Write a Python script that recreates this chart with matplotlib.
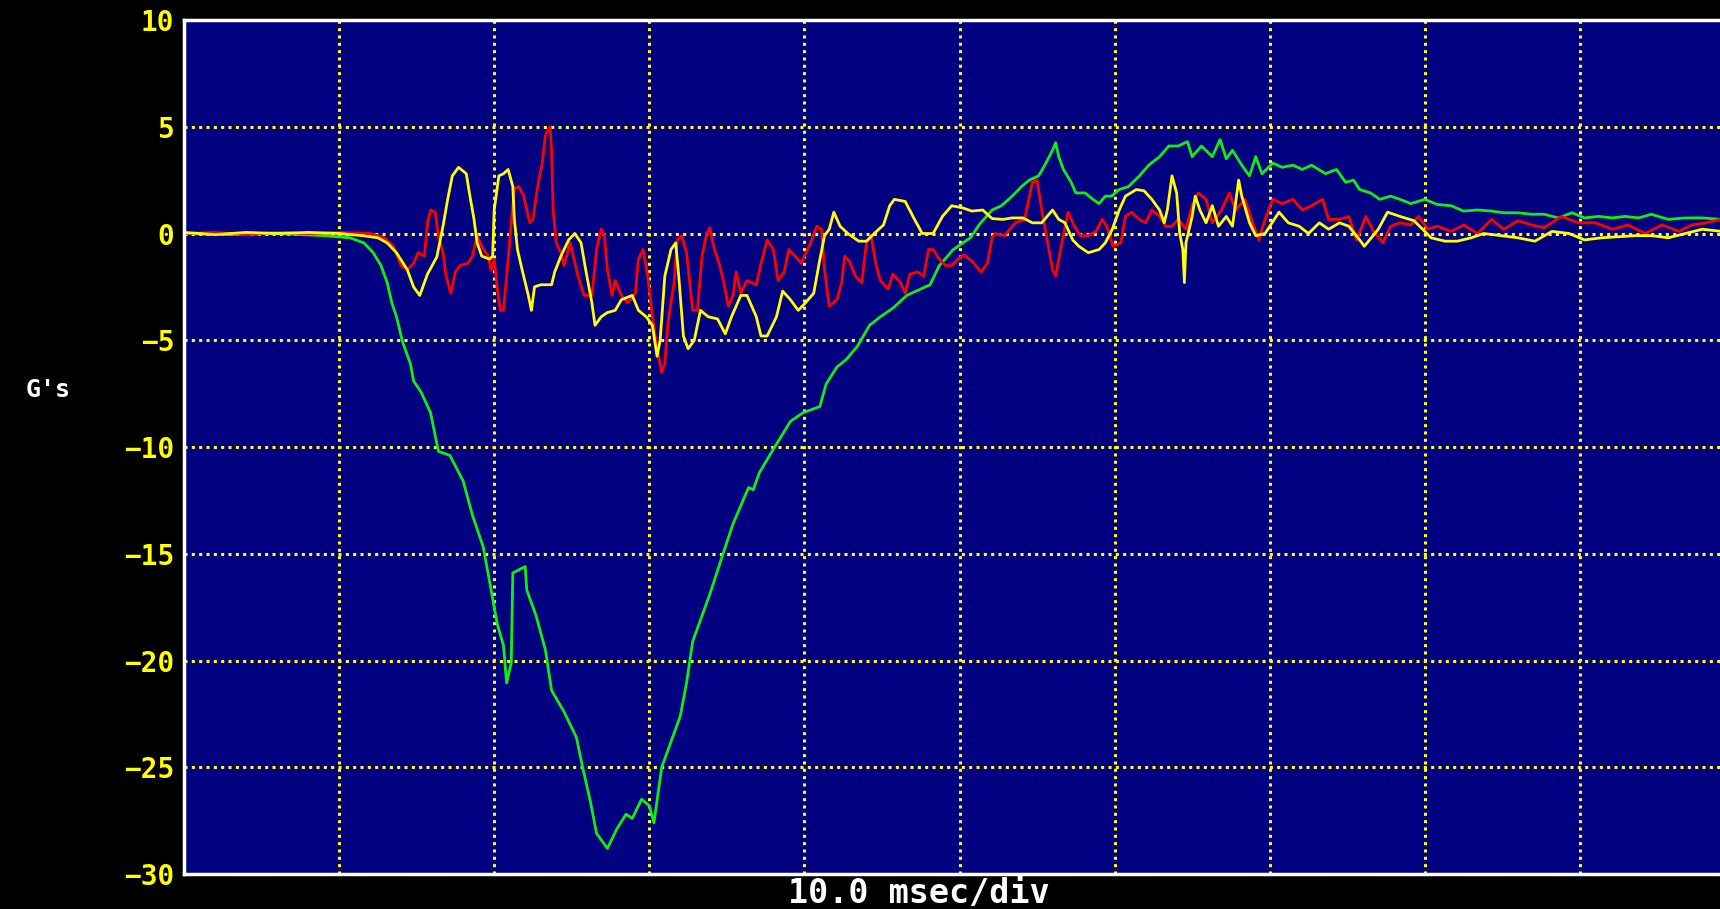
import matplotlib
matplotlib.use("Agg")
import matplotlib.pyplot as plt

# ---- data (time in ms, acceleration in G's) ----
green_t = [0, 3, 6, 9, 10.7, 11.6, 12.2, 12.7, 13.1, 13.4, 13.7, 14.1, 14.6, 14.8, 15.3, 15.9,
           16.4, 17.15, 18.0, 18.6, 19.3, 19.7, 20.2, 20.6, 20.8, 21.1, 21.2, 22.0, 22.1, 22.7,
           23.3, 23.7, 24.5, 25.3, 25.7, 26.2, 26.6, 27.3, 27.9, 28.5, 28.9, 29.5, 30.0, 30.3,
           30.8, 31.1, 32.0, 32.4, 32.8, 33.3, 33.9, 34.8, 35.4, 36.4, 36.7, 37.1, 38.0, 39.1,
           39.9, 41.0, 41.4, 42.1, 42.7, 43.4, 44.2, 44.9, 45.7, 46.6, 47.5, 48.1, 48.7, 49.6,
           50.7, 51.3, 52.1, 52.7, 53.4, 54.0, 54.5, 55.1, 55.5, 56.0, 56.2, 56.4, 56.7, 57.2,
           57.5, 58.1, 58.6, 59.0, 59.4, 59.8, 60.3, 60.9, 61.6, 62.2, 62.9, 63.5, 64.1, 64.7,
           65.0, 65.6, 66.3, 66.8, 67.2, 67.6, 68.2, 68.7, 69.1, 69.5, 70.2, 70.8, 71.5, 72.1,
           72.7, 73.6, 74.3, 74.9, 75.4, 75.8, 76.5, 77.1, 77.8, 78.4, 79.1, 80.0, 80.8, 81.7,
           82.5, 83.4, 84.3, 85.1, 86.0, 86.9, 87.7, 88.6, 89.5, 90.3, 91.2, 92.1, 92.9, 93.8,
           94.6, 95.7, 96.8, 97.9, 99.1]
green_g = [0.0, -0.05, 0.0, -0.1, -0.2, -0.44, -0.9, -1.5, -2.3, -3.25, -3.9, -5.1, -6.1, -6.9,
           -7.45, -8.4, -10.2, -10.4, -11.6, -13.2, -14.7, -16.3, -18.3, -19.3, -21.05, -20.1,
           -15.9, -15.6, -16.7, -17.9, -19.5, -21.4, -22.4, -23.6, -25.0, -26.6, -28.1, -28.8,
           -27.9, -27.2, -27.4, -26.5, -26.8, -27.6, -25.0, -24.4, -22.6, -21.05, -19.1, -18.1,
           -16.9, -14.9, -13.6, -11.9, -12.0, -11.2, -10.1, -8.8, -8.4, -8.1, -7.05, -6.25, -5.9,
           -5.3, -4.3, -3.9, -3.5, -2.9, -2.6, -2.4, -1.5, -0.75, -0.2, 0.44, 1.1, 1.3, 1.75,
           2.2, 2.5, 2.7, 3.2, 3.9, 4.25, 3.6, 3.0, 2.4, 1.9, 1.9, 1.6, 1.4, 1.75, 1.75, 2.06,
           2.2, 2.7, 3.2, 3.6, 4.1, 4.1, 4.3, 3.6, 4.1, 3.6, 4.4, 3.5, 3.9, 3.2, 2.7, 3.6, 2.8,
           3.3, 3.1, 3.2, 3.0, 3.2, 2.8, 3.0, 2.4, 2.5, 2.06, 1.9, 1.6, 1.75, 1.6, 1.4, 1.6,
           1.36, 1.3, 1.05, 1.1, 1.05, 0.97, 0.97, 0.9, 0.9, 0.73, 0.97, 0.73, 0.8, 0.73, 0.8,
           0.73, 0.9, 0.66, 0.73, 0.73, 0.66]

yellow_t = [0, 2, 4, 6, 8, 10, 11.5, 12.5, 13.1, 13.7, 14.4, 14.8, 15.2, 15.7, 16.3, 16.7, 17.0,
            17.3, 17.7, 18.2, 18.4, 18.7, 18.9, 19.2, 19.7, 19.9, 20.0, 20.3, 20.6, 20.9, 21.2,
            21.3, 21.5, 21.8, 22.2, 22.4, 22.6, 23.0, 23.7, 23.9, 24.3, 24.8, 25.2, 25.6, 25.9,
            26.3, 26.5, 26.9, 27.3, 27.8, 28.2, 28.9, 29.3, 29.8, 30.2, 30.5, 30.7, 31.0, 31.4,
            31.7, 31.9, 32.2, 32.5, 32.9, 33.3, 33.8, 34.4, 34.9, 35.3, 35.9, 36.3, 36.9, 37.2,
            37.6, 38.2, 38.6, 39.1, 39.6, 40.0, 40.6, 41.0, 41.3, 41.6, 41.9, 42.3, 42.8, 43.5,
            44.0, 44.5, 45.1, 45.5, 45.8, 46.5, 47.1, 47.6, 48.3, 48.9, 49.5, 50.2, 50.8, 51.5,
            52.1, 52.8, 53.4, 54.1, 54.7, 55.3, 56.0, 56.4, 56.8, 57.3, 57.7, 58.3, 59.0, 59.4,
            59.85, 60.3, 60.7, 61.4, 61.9, 62.4, 62.9, 63.2, 63.4, 63.7, 64.0, 64.2, 64.4, 64.5,
            64.6, 65.0, 65.2, 65.5, 65.9, 66.3, 66.7, 67.2, 67.6, 68.0, 68.2, 68.7, 69.1, 69.7,
            70.6, 71.2, 71.9, 72.5, 73.2, 73.8, 74.5, 75.1, 75.8, 76.1, 77.0, 77.6, 78.4, 79.3,
            80.0, 80.4, 81.3, 82.1, 83.0, 83.8, 84.9, 86.0, 87.1, 88.2, 89.3, 90.3, 91.4, 92.5,
            93.6, 94.6, 95.7, 96.8, 97.9, 99.1]
yellow_g = [0.05, -0.05, 0.05, 0.0, 0.05, 0.0, -0.1, -0.2, -0.44, -0.9, -1.7, -2.5, -2.9, -1.9,
            -1.1, 0.34, 1.6, 2.7, 3.1, 2.8, 1.9, 0.66, -0.44, -1.06, -1.2, -1.06, 1.1, 2.7, 2.8,
            3.0, 2.2, 0.66, -0.75, -1.7, -2.9, -3.6, -2.5, -2.4, -2.4, -1.8, -1.06, -0.3, 0.0,
            -0.44, -1.7, -3.25, -4.3, -3.9, -3.7, -3.6, -3.1, -2.9, -3.6, -3.9, -4.3, -5.75, -5.0,
            -2.0, -0.75, -0.44, -2.0, -4.8, -5.4, -5.0, -3.6, -3.9, -4.0, -4.7, -3.9, -2.9, -2.9,
            -3.9, -4.8, -4.8, -3.9, -2.7, -3.1, -3.6, -3.3, -2.8, -1.2, -0.1, 0.2, 1.0, 0.34, 0.0,
            -0.36, -0.36, 0.0, 0.4, 1.3, 1.6, 1.5, 0.66, 0.0, 0.0, 0.8, 1.3, 1.2, 1.05, 1.1, 0.7,
            0.66, 0.73, 0.73, 0.5, 0.5, 1.1, 0.66, 0.5, -0.3, -0.6, -0.9, -0.75, -0.44, 0.2, 1.1,
            1.75, 2.06, 2.0, 1.6, 1.1, 0.5, 1.1, 2.7, 1.9, 0.0, -0.75, -2.3, -0.44, 0.8, 1.75,
            1.1, 0.5, 1.3, 0.34, 0.8, 0.34, 2.5, 1.75, 0.5, -0.1, 0.0, 1.0, 0.5, 0.34, 0.0, 0.5,
            0.2, 0.5, 0.34, -0.3, -0.6, 0.2, 1.0, 0.8, 0.6, 0.1, -0.2, -0.36, -0.36, -0.2, 0.0,
            -0.1, -0.2, -0.36, 0.1, 0.0, -0.3, -0.2, -0.15, -0.1, -0.1, -0.2, 0.0, 0.2, 0.1]

red_t = [0, 2, 4, 6, 8, 10, 12.0, 12.9, 13.5, 14.0, 14.4, 14.8, 15.1, 15.5, 15.7, 15.9, 16.2,
         16.4, 16.7, 16.9, 17.2, 17.5, 17.8, 18.3, 18.6, 18.9, 19.2, 19.6, 19.8, 20.0, 20.2,
         20.4, 20.6, 20.9, 21.1, 21.3, 21.6, 21.9, 22.3, 22.5, 22.8, 23.1, 23.3, 23.6, 23.7,
         23.8, 24.0, 24.3, 24.5, 24.9, 25.1, 25.4, 25.8, 26.3, 26.6, 26.9, 27.1, 27.3, 27.6,
         27.8, 28.2, 28.6, 29.1, 29.3, 29.6, 29.9, 30.2, 30.5, 30.8, 31.0, 31.2, 31.6, 31.8,
         32.1, 32.4, 32.8, 33.1, 33.4, 33.7, 33.9, 34.2, 34.5, 34.8, 35.1, 35.4, 35.6, 35.9,
         36.3, 36.9, 37.2, 37.6, 38.0, 38.3, 38.7, 39.0, 39.4, 39.8, 40.1, 40.4, 40.8, 41.1,
         41.3, 41.6, 42.1, 42.4, 42.6, 42.9, 43.3, 43.7, 44.0, 44.3, 44.6, 44.9, 45.4, 45.7,
         46.2, 46.5, 46.8, 47.3, 47.7, 48.0, 48.3, 48.7, 49.1, 49.5, 49.9, 50.3, 50.8, 51.4,
         51.8, 52.1, 52.3, 52.9, 53.6, 54.2, 54.7, 55.0, 55.3, 55.6, 56.0, 56.2, 56.4, 56.7,
         57.0, 57.4, 57.8, 58.3, 58.8, 59.2, 59.5, 59.9, 60.4, 60.7, 61.1, 61.6, 62.0, 62.4,
         62.9, 63.3, 63.7, 64.1, 64.6, 65.0, 65.4, 65.9, 66.3, 66.9, 67.4, 67.8, 68.4, 68.9,
         69.3, 69.7, 70.2, 70.8, 71.5, 72.1, 72.7, 73.4, 73.8, 74.5, 75.1, 75.6, 76.2, 76.7,
         77.3, 77.8, 78.4, 79.1, 79.6, 80.2, 80.8, 81.7, 82.5, 83.4, 84.3, 85.1, 86.0, 86.9,
         87.7, 88.8, 89.9, 91.0, 92.1, 93.1, 94.2, 95.3, 96.4, 97.2, 98.1, 99.1]
red_g = [0.0, 0.05, -0.05, 0.05, 0.0, 0.05, 0.0, -0.2, -0.6, -1.5, -1.7, -1.4, -0.9, -1.06, 0.5,
         1.1, 1.0, -0.1, -0.9, -2.0, -2.8, -1.8, -1.5, -1.4, -1.06, -0.1, -0.6, -1.06, -1.7,
         -1.2, -2.6, -3.6, -3.6, -1.2, 0.5, 2.1, 2.2, 1.75, 0.5, 0.66, 2.2, 3.3, 4.6, 5.0, 3.9,
         1.1, -0.44, -0.9, -1.5, -0.44, -1.06, -2.0, -2.9, -2.9, -0.75, 0.2, -0.1, -1.7, -2.9,
         -2.2, -2.9, -3.25, -2.8, -1.2, -0.75, -2.0, -3.9, -5.4, -6.5, -6.1, -4.2, -2.3, -0.3,
         -0.1, -0.9, -3.6, -3.6, -1.06, 0.0, 0.27, -0.75, -1.4, -2.3, -3.4, -2.9, -1.8, -2.8,
         -2.2, -2.4, -1.4, -0.3, -0.75, -2.2, -1.8, -0.75, -1.06, -1.4, -0.9, -0.44, 0.34, 0.2,
         -1.7, -3.4, -3.1, -2.3, -1.06, -1.3, -2.0, -2.3, -0.44, -0.1, -1.4, -2.2, -2.6, -1.9,
         -2.3, -2.8, -1.9, -1.8, -2.0, -0.75, -0.75, -1.2, -1.5, -1.5, -1.2, -1.0, -1.3, -1.8,
         -1.4, -0.2, 0.0, -0.1, 0.5, 0.66, 2.4, 2.5, 1.1, -0.1, -1.7, -2.0, -1.2, -0.1, 1.0,
         0.34, -0.1, -0.1, 0.1, 0.66, 0.34, -0.6, -0.44, 0.8, 1.0, 0.66, 0.5, 1.1, 0.8, 0.34,
         0.34, 0.66, 0.2, 1.3, 1.9, 1.6, 0.5, 1.1, 1.9, 1.1, 1.6, 0.5, -0.3, 0.66, 1.6, 1.4,
         1.6, 1.1, 1.3, 1.6, 0.66, 0.66, 0.8, -0.3, 0.8, 0.1, -0.44, 0.34, 0.5, 0.4, 0.8, 0.2,
         0.34, 0.1, 0.4, 0.0, 0.66, 0.2, 0.6, 0.4, 0.27, 0.8, 0.5, 0.5, 0.2, 0.4, 0.0, 0.4,
         0.1, 0.4, 0.5, 0.66]

y_ticks = [10, 5, 0, -5, -10, -15, -20, -25, -30]
y_tick_labels = ["10", "5", "0", "\u22125", "\u221210", "\u221215", "\u221220", "\u221225", "\u221230"]
x_grid = [0, 10, 20, 30, 40, 50, 60, 70, 80, 90]
x_label = "10.0 msec/div"
y_label = "G's"

# ---- figure ----
W, H = 1720, 909
fig = plt.figure(figsize=(W / 100, H / 100), dpi=100, facecolor="black")
ax = fig.add_axes([184 / W, 1 - 874 / H, 1 - 184 / W, (874 - 20) / H])
ax.set_facecolor("#000080")

ax.plot(green_t, green_g, color="#10f010", lw=2.0, zorder=3)
ax.plot(red_t, red_g, color="#ff0000", lw=2.0, zorder=4)
ax.plot(yellow_t, yellow_g, color="#ffff00", lw=2.0, zorder=5)

ax.set_xlim(0, (W - 184) / 15.51)
ax.set_ylim(-30, 10)
ax.set_xticks(x_grid)
ax.set_xticklabels([])
ax.set_yticks(y_ticks)
ax.set_yticklabels(y_tick_labels, color="#ffff00", fontsize=20,
                   fontfamily="DejaVu Sans Mono", fontweight="bold")
ax.tick_params(axis="both", length=0, pad=7)
ax.grid(True, color="#ffff00", linestyle=(0, (1.0, 1.4)), linewidth=2.2, zorder=1)
ax.set_axisbelow(True)

for side in ["left", "top", "bottom"]:
    ax.spines[side].set_color("white")
    ax.spines[side].set_linewidth(2.5)
    ax.spines[side].set_zorder(6)
ax.spines["right"].set_visible(False)

fig.text(919 / W, 1 - 894 / H, x_label, color="white", fontsize=24,
         fontfamily="DejaVu Sans Mono", fontweight="bold", ha="center", va="center")
fig.text(48 / W, 1 - 390 / H, y_label, color="white", fontsize=18,
         fontfamily="DejaVu Sans Mono", fontweight="bold", ha="center", va="center")

fig.savefig("out.png", dpi=100, facecolor="black")
